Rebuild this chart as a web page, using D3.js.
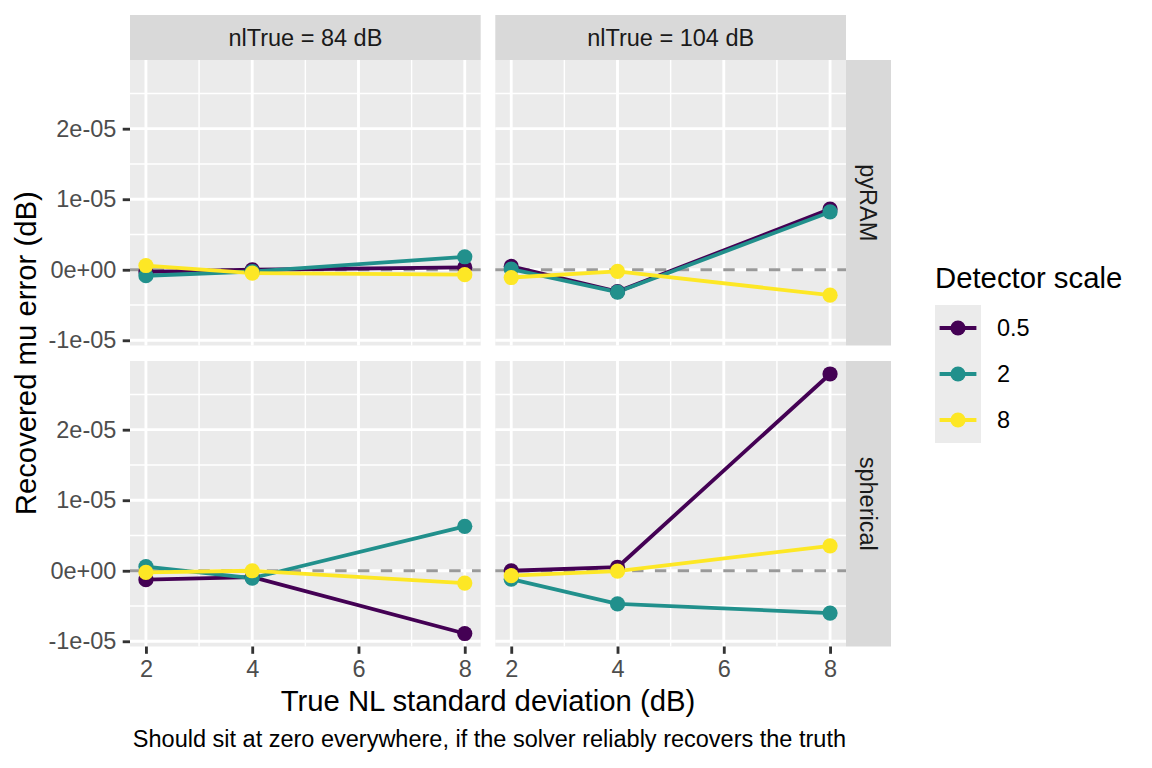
<!DOCTYPE html>
<html>
<head>
<meta charset="utf-8">
<script src="https://cdn.jsdelivr.net/npm/d3@7/dist/d3.min.js"></script>
<style>
  html, body { margin: 0; padding: 0; background: #fff; }
  svg { display: block; }
  text { font-family: "Liberation Sans", Arial, sans-serif; }
</style>
</head>
<body>
<svg id="chart" width="1152" height="768"></svg>
<script>
// ---------- data ----------
const sdTrue = [2, 4, 8];                 // x: True NL standard deviation (dB)
const nlTrueLevels = [84, 104];           // facet columns
const methods = ["pyRAM", "spherical"];   // facet rows
const detectorScales = ["0.5", "2", "8"]; // colour groups
const scaleColors = ["#440154", "#21908C", "#FDE725"];

// Recovered mu error (dB), one array per method / nlTrue / detector scale, over sdTrue
const pyRAM_84_s05  = [-0.30e-6,  0.00e-6,  0.33e-6];
const pyRAM_84_s2   = [-0.85e-6, -0.25e-6,  1.84e-6];
const pyRAM_84_s8   = [ 0.60e-6, -0.47e-6, -0.70e-6];
const pyRAM_104_s05 = [ 0.47e-6, -3.10e-6,  8.60e-6];
const pyRAM_104_s2  = [ 0.10e-6, -3.16e-6,  8.20e-6];
const pyRAM_104_s8  = [-1.10e-6, -0.24e-6, -3.60e-6];
const sph_84_s05    = [-1.27e-6, -0.90e-6, -8.90e-6];
const sph_84_s2     = [ 0.60e-6, -1.04e-6,  6.30e-6];
const sph_84_s8     = [-0.24e-6,  0.00e-6, -1.75e-6];
const sph_104_s05   = [ 0.00e-6,  0.50e-6, 27.90e-6];
const sph_104_s2    = [-1.20e-6, -4.70e-6, -6.00e-6];
const sph_104_s8    = [-0.70e-6, -0.05e-6,  3.54e-6];

const xTicks = [2, 4, 6, 8];
const xTickLabels = ["2", "4", "6", "8"];
const xMinor = [3, 5, 7];
const yTicks = [-1e-5, 0, 1e-5, 2e-5];
const yTickLabels = ["-1e-05", "0e+00", "1e-05", "2e-05"];
const yMinor = [-0.5e-5, 0.5e-5, 1.5e-5, 2.5e-5];

const stripColLabels = ["nlTrue = 84 dB", "nlTrue = 104 dB"];
const xTitle = "True NL standard deviation (dB)";
const yTitle = "Recovered mu error (dB)";
const caption = "Should sit at zero everywhere, if the solver reliably recovers the truth";
const legendTitle = "Detector scale";

const panelSeries = {
  "pyRAM|84": [pyRAM_84_s05, pyRAM_84_s2, pyRAM_84_s8],
  "pyRAM|104": [pyRAM_104_s05, pyRAM_104_s2, pyRAM_104_s8],
  "spherical|84": [sph_84_s05, sph_84_s2, sph_84_s8],
  "spherical|104": [sph_104_s05, sph_104_s2, sph_104_s8]
};

// ---------- layout ----------
const colX = [[130, 480.7], [495.3, 846]];
const rowY = [[60, 345.5], [361, 646.5]];
const stripTop = 15;
const stripRight = [846, 891];

const svg = d3.select("#chart");

// shared (fixed) y domain with 5% expansion, x domain with 5% expansion
const allVals = Object.values(panelSeries).flat(2);
const yExt = d3.extent(allVals);
const yPad = (yExt[1] - yExt[0]) * 0.05;
const yDomain = [yExt[0] - yPad, yExt[1] + yPad];
const xExt = d3.extent(sdTrue);
const xPad = (xExt[1] - xExt[0]) * 0.05;
const xDomain = [xExt[0] - xPad, xExt[1] + xPad];

const xScales = colX.map(r => d3.scaleLinear().domain(xDomain).range(r));
const yScales = rowY.map(r => d3.scaleLinear().domain(yDomain).range([r[1], r[0]]));

const lineGen = (xs, ys) => d3.line().x((d, i) => xs(sdTrue[i])).y(d => ys(d));

methods.forEach((m, ri) => {
  nlTrueLevels.forEach((nl, ci) => {
    const xs = xScales[ci], ys = yScales[ri];
    const g = svg.append("g");
    const [x0, x1] = colX[ci], [y0, y1] = rowY[ri];
    g.append("rect").attr("x", x0).attr("y", y0).attr("width", x1 - x0).attr("height", y1 - y0)
      .attr("fill", "#EBEBEB");
    // minor grid
    g.selectAll(".ymin").data(yMinor.filter(v => v >= yDomain[0] && v <= yDomain[1])).enter().append("line")
      .attr("x1", x0).attr("x2", x1).attr("y1", d => ys(d)).attr("y2", d => ys(d))
      .attr("stroke", "#fff").attr("stroke-width", 1.42);
    g.selectAll(".xmin").data(xMinor).enter().append("line")
      .attr("y1", y0).attr("y2", y1).attr("x1", d => xs(d)).attr("x2", d => xs(d))
      .attr("stroke", "#fff").attr("stroke-width", 1.42);
    // major grid
    g.selectAll(".ymaj").data(yTicks).enter().append("line")
      .attr("x1", x0).attr("x2", x1).attr("y1", d => ys(d)).attr("y2", d => ys(d))
      .attr("stroke", "#fff").attr("stroke-width", 2.85);
    g.selectAll(".xmaj").data(xTicks).enter().append("line")
      .attr("y1", y0).attr("y2", y1).attr("x1", d => xs(d)).attr("x2", d => xs(d))
      .attr("stroke", "#fff").attr("stroke-width", 2.85);
    // zero reference
    g.append("line").attr("x1", x0).attr("x2", x1).attr("y1", ys(0)).attr("y2", ys(0))
      .attr("stroke", "#999999").attr("stroke-width", 2.85).attr("stroke-dasharray", "11.4,11.4");
    const series = panelSeries[m + "|" + nl];
    // lines
    series.forEach((vals, si) => {
      g.append("path").datum(vals).attr("d", lineGen(xs, ys))
        .attr("fill", "none").attr("stroke", scaleColors[si]).attr("stroke-width", 3.8)
        .attr("stroke-linejoin", "round");
    });
    // points
    series.forEach((vals, si) => {
      g.selectAll(null).data(vals).enter().append("circle")
        .attr("cx", (d, i) => xs(sdTrue[i])).attr("cy", d => ys(d)).attr("r", 7.6)
        .attr("fill", scaleColors[si]);
    });
  });
});

// column strips
nlTrueLevels.forEach((nl, ci) => {
  const [x0, x1] = colX[ci];
  svg.append("rect").attr("x", x0).attr("y", stripTop).attr("width", x1 - x0).attr("height", rowY[0][0] - stripTop)
    .attr("fill", "#D9D9D9");
  svg.append("text").attr("x", (x0 + x1) / 2).attr("y", (stripTop + rowY[0][0]) / 2).attr("dy", "0.35em")
    .attr("text-anchor", "middle").attr("font-size", 23.5).attr("fill", "#1A1A1A").text(stripColLabels[ci]);
});
// row strips
methods.forEach((m, ri) => {
  const [y0, y1] = rowY[ri];
  svg.append("rect").attr("x", stripRight[0]).attr("y", y0).attr("width", stripRight[1] - stripRight[0]).attr("height", y1 - y0)
    .attr("fill", "#D9D9D9");
  const cx = (stripRight[0] + stripRight[1]) / 2, cy = (y0 + y1) / 2;
  svg.append("text").attr("transform", `translate(${cx},${cy}) rotate(90)`).attr("dy", "0.35em")
    .attr("text-anchor", "middle").attr("font-size", 23.5).attr("fill", "#1A1A1A").text(m);
});

// axes
function styleAxis(sel) {
  sel.select(".domain").remove();
  sel.selectAll(".tick line").attr("stroke", "#333333").attr("stroke-width", 2.85);
  sel.selectAll(".tick text").attr("fill", "#4D4D4D").attr("font-size", 23.5)
    .attr("font-family", "'Liberation Sans', Arial, sans-serif");
}
yScales.forEach((ys, ri) => {
  const ax = d3.axisLeft(ys).tickValues(yTicks).tickFormat((d, i) => yTickLabels[i])
    .tickSize(7.3).tickSizeOuter(0).tickPadding(6.3);
  svg.append("g").attr("transform", `translate(${colX[0][0]},0)`).call(ax).call(styleAxis);
});
xScales.forEach((xs, ci) => {
  const ax = d3.axisBottom(xs).tickValues(xTicks).tickFormat((d, i) => xTickLabels[i])
    .tickSize(7.3).tickSizeOuter(0).tickPadding(6.5);
  svg.append("g").attr("transform", `translate(0,${rowY[1][1]})`).call(ax).call(styleAxis);
});

// titles
svg.append("text").attr("x", (colX[0][0] + colX[1][1]) / 2).attr("y", 711)
  .attr("text-anchor", "middle").attr("font-size", 29.3).attr("fill", "#000").text(xTitle);
svg.append("text").attr("transform", `translate(36,${(rowY[0][0] + rowY[1][1]) / 2}) rotate(-90)`)
  .attr("text-anchor", "middle").attr("font-size", 29.3).attr("fill", "#000").text(yTitle);
svg.append("text").attr("x", colX[1][1]).attr("y", 747)
  .attr("text-anchor", "end").attr("font-size", 23.5).attr("fill", "#000").text(caption);

// legend
const lg = svg.append("g");
lg.append("text").attr("x", 935).attr("y", 288).attr("font-size", 29.3).attr("fill", "#000").text(legendTitle);
const keyY = d3.scaleBand().domain(detectorScales).range([305, 443]);
detectorScales.forEach((s, i) => {
  const y = keyY(s), h = keyY.bandwidth();
  lg.append("rect").attr("x", 935).attr("y", y).attr("width", 46).attr("height", h).attr("fill", "#EBEBEB");
  lg.append("line").attr("x1", 939.6).attr("x2", 976.4).attr("y1", y + h / 2).attr("y2", y + h / 2)
    .attr("stroke", scaleColors[i]).attr("stroke-width", 3.8);
  lg.append("circle").attr("cx", 958).attr("cy", y + h / 2).attr("r", 7.6).attr("fill", scaleColors[i]);
  lg.append("text").attr("x", 997).attr("y", y + h / 2).attr("dy", "0.35em").attr("font-size", 23.5)
    .attr("fill", "#000").text(s);
});
</script>
</body>
</html>
